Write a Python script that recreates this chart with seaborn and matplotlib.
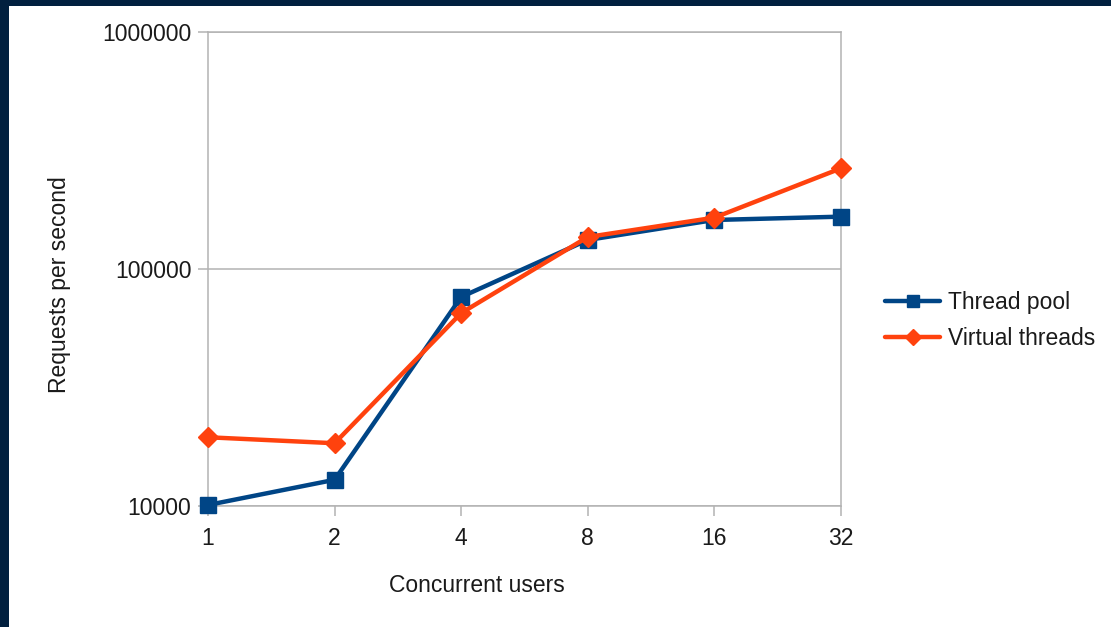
import matplotlib
matplotlib.use("Agg")
import matplotlib.pyplot as plt
from matplotlib.patches import Rectangle
import numpy as np
import pandas as pd
import seaborn as sns

# Benchmark results
users = [1, 2, 4, 8, 16, 32]
thread_pool = [10100, 12900, 76200, 132600, 161000, 166300]
virtual_threads = [19500, 18400, 65200, 136500, 164700, 266000]
series_names = ["Thread pool", "Virtual threads"]
y_ticks = [10000, 100000, 1000000]

sns.set_theme(style="white")
plt.rcParams["font.family"] = ["Liberation Sans", "DejaVu Sans"]

TEXT = "#1a1a1a"
GRID = "#b3b3b3"
BLUE = "#004586"
ORANGE = "#ff420e"
NAVY = "#01203f"
FS = 16.5

df = pd.DataFrame({
    "users": users * 2,
    "rps": thread_pool + virtual_threads,
    "series": [series_names[0]] * len(users) + [series_names[1]] * len(users),
})

fig = plt.figure(figsize=(11.11, 6.27), dpi=100)
fig.patch.set_facecolor("white")
ax = fig.add_axes([208 / 1111, 1 - 506 / 627, 633 / 1111, 474 / 627])

sns.lineplot(
    data=df, x="users", y="rps", hue="series", style="series",
    palette={series_names[0]: BLUE, series_names[1]: ORANGE},
    markers={series_names[0]: "s", series_names[1]: "D"},
    dashes=False, linewidth=3.2, markersize=12, markeredgewidth=1,
    ax=ax, legend=False,
)
# diamonds slightly smaller than squares; let markers overhang the frame
for line, ms in zip(ax.get_lines(), [12, 10.5]):
    line.set_markersize(ms)
    line.set_markeredgecolor(line.get_color())
    line.set_clip_on(False)
    line.set_zorder(5)

ax.set_xscale("log", base=2)
ax.set_yscale("log")
ax.set_xlim(1, 32)
ax.set_ylim(10000, 1000000)
ax.set_xticks(users)
ax.set_xticklabels([str(u) for u in users])
ax.set_yticks(y_ticks)
ax.set_yticklabels([str(t) for t in y_ticks])
ax.yaxis.set_minor_locator(matplotlib.ticker.NullLocator())
ax.xaxis.set_minor_locator(matplotlib.ticker.NullLocator())

ax.grid(True, axis="y", color=GRID, linewidth=1.1)
ax.grid(False, axis="x")
ax.set_axisbelow(True)
for s in ax.spines.values():
    s.set_color(GRID)
    s.set_linewidth(1.1)

ax.tick_params(axis="both", which="major", direction="out", length=7,
               width=1.1, color=GRID, labelsize=FS, labelcolor=TEXT,
               left=True, bottom=True)
ax.tick_params(axis="x", pad=8)
ax.tick_params(axis="y", pad=5)

ax.set_xlabel("Concurrent users", fontsize=FS, color=TEXT)
ax.set_ylabel("Requests per second", fontsize=FS, color=TEXT)
ax.xaxis.set_label_coords((477 - 208) / 633, (506 - 574) / 474)
ax.yaxis.set_label_coords((71 - 208) / 633, (506 - 285) / 474)

handles = [
    plt.Line2D([], [], color=BLUE, lw=3.2, marker="s", markersize=9,
               markeredgecolor=BLUE),
    plt.Line2D([], [], color=ORANGE, lw=3.2, marker="D", markersize=8,
               markeredgecolor=ORANGE),
]
fig.legend(handles, series_names, loc="upper left",
           bbox_to_anchor=(885 / 1111, 1 - 291 / 627), frameon=False,
           fontsize=FS, labelcolor=TEXT, handlelength=2.4, handletextpad=0.35,
           borderpad=0, borderaxespad=0, labelspacing=0.55)

# dark frame strips along the top and left edges
fig.add_artist(Rectangle((0, 1 - 6 / 627), 1, 6 / 627, transform=fig.transFigure,
                         facecolor=NAVY, edgecolor="none", zorder=10))
fig.add_artist(Rectangle((0, 0), 9 / 1111, 1, transform=fig.transFigure,
                         facecolor=NAVY, edgecolor="none", zorder=10))

fig.savefig("out.png", dpi=100)
